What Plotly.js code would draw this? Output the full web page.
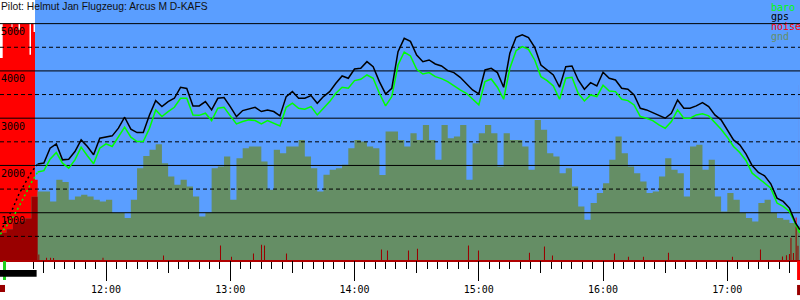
<!DOCTYPE html>
<html><head><meta charset="utf-8">
<script src="https://cdn.plot.ly/plotly-3.0.1.min.js"></script>
<style>html,body{margin:0;padding:0;background:#fff}#chart{width:800px;height:300px}</style>
</head><body><div id="chart"></div>
<script>
const DAY = '2020-06-01 ';
const xStart = '11:08:49', xEnd = '17:35:06';
const titleText = 'Pilot: Helmut Jan Flugzeug: Arcus M D-KAFS';

const times = ['11:09','11:12','11:15','11:18','11:21','11:24','11:27','11:30','11:33','11:36','11:39','11:42','11:45','11:48','11:51','11:54','11:57',
'12:00','12:03','12:06','12:09','12:12','12:15','12:18','12:21','12:24','12:27','12:30','12:33','12:36','12:39','12:42','12:45','12:48','12:51','12:54','12:57',
'13:00','13:03','13:06','13:09','13:12','13:15','13:18','13:21','13:24','13:27','13:30','13:33','13:36','13:39','13:42','13:45','13:48','13:51','13:54','13:57',
'14:00','14:03','14:06','14:09','14:12','14:15','14:18','14:21','14:24','14:27','14:30','14:33','14:36','14:39','14:42','14:45','14:48','14:51','14:54','14:57',
'15:00','15:03','15:06','15:09','15:12','15:15','15:18','15:21','15:24','15:27','15:30','15:33','15:36','15:39','15:42','15:45','15:48','15:51','15:54','15:57',
'16:00','16:03','16:06','16:09','16:12','16:15','16:18','16:21','16:24','16:27','16:30','16:33','16:36','16:39','16:42','16:45','16:48','16:51','16:54','16:57',
'17:00','17:03','17:06','17:09','17:12','17:15','17:18','17:21','17:24','17:27','17:30','17:33','17:35'];

const gps = [600,850,1090,1400,1640,1860,2030,2050,2365,2457,2119,2133,2295,2541,2401,2225,2577,
2598,2626,2788,3020,2767,2696,2696,3069,3372,3245,3351,3421,3654,3630,3260,3260,3351,3175,3421,3436,
3245,3034,3161,3189,3231,3140,3175,3140,3048,3457,3562,3421,3421,3478,3316,3457,3562,3738,3893,3844,
4041,4055,4196,4090,3773,3513,3633,4407,4689,4625,4337,4196,4231,4147,4104,4006,3964,3865,3724,3597,
3513,4020,4055,3964,3654,4372,4710,4766,4707,4498,4125,4020,3914,3654,4090,4104,3809,3612,3752,3682,
3971,3844,3809,3633,3612,3492,3210,3175,3119,3048,2999,3105,3386,3210,3210,3260,3330,3245,3069,2964,
2753,2541,2436,2246,1999,1852,1781,1612,1309,1239,1098,781,641];

const baro = [545,720,900,1130,1390,1640,1860,1890,2133,2274,2049,1943,2119,2387,2204,2035,2365,
2457,2401,2612,2809,2598,2506,2506,2788,3175,3034,3140,3231,3421,3420,3069,3060,3105,2950,3210,3231,
3048,2879,2929,2964,2950,2879,2950,2893,2837,3231,3316,3210,3189,3245,3069,3210,3351,3527,3654,3633,
3795,3823,3914,3844,3527,3260,3457,4125,4400,4316,4034,3935,3964,3879,3837,3773,3682,3597,3527,3400,
3281,3773,3830,3654,3400,4055,4428,4513,4456,4231,3879,3795,3682,3400,3844,3865,3527,3365,3492,3457,
3696,3576,3562,3400,3372,3281,3034,2999,2950,2858,2788,2929,3175,2999,2999,3069,3091,3048,2907,2767,
2598,2401,2274,2105,1837,1732,1640,1521,1204,1133,1028,746,570];

const gnd = [575,650,790,818,880,1340,1450,1450,1240,1700,1650,1274,1345,1380,1345,1274,1239,
1274,993,993,887,1274,1943,2200,2330,2450,2049,1767,1591,1697,1556,1345,922,1000,1943,1978,2190,
1274,2150,2365,2400,2400,2084,1485,2330,2260,2400,2400,2541,2190,1943,1450,1802,1908,1943,2013,2365,
2541,2506,2400,2365,1800,2717,2717,2541,2400,2682,2541,2858,2541,2119,2858,2577,2612,2858,1697,2471,
2682,2858,2682,1978,2682,2541,2541,2400,1908,2964,2753,2260,2190,1837,1943,1556,1133,852,1204,1415,
1626,2119,2612,2260,1978,1837,1661,1415,1450,1767,2154,1908,1837,1345,2400,2436,1908,2119,1345,1028,
1415,1274,993,887,817,1204,1274,993,887,852,781,711,641];

// engine climb samples (drawn dotted), index of first gliding sample
const climbEnd = 6;

// engine noise level (0..1000), held until the next sample
const noiseTimes  = ['11:08:00','11:10:07','11:14:22','11:14:51','11:17:45','11:18:28','11:23:03','11:23:47','11:25:00','11:25:43','11:27:01','17:34:21'];
const noiseValues = [855,1000,986,1000,973,1000,868,1000,965,340,0,741];
// short noise spikes
const spikeTimes  = ['11:27:19','11:31:02','11:32:58','11:34:25','11:58:18','12:27:31','12:55:02','13:00:21','13:10:58','13:14:50','13:16:17','13:26:54',
'14:12:46','14:15:40','14:25:48','14:30:09','14:54:46','14:59:36','15:24:13','15:31:28','15:35:20','16:05:16','16:12:01','16:19:16','16:31:20',
'17:02:14','17:15:46','17:26:23','17:28:19','17:29:46','17:30:29','17:31:41','17:32:59','17:33:52'];
const spikeValues = [23,10,10,8,10,19,61,14,27,65,61,27,44,40,40,48,61,40,31,57,19,27,14,14,31,14,44,15,20,25,94,30,180,60];
const noiseFullScale = 5000;   // noise 1000 drawn at 5000 m

const engineOn = ['11:00:00','11:25:43'];
const launchMark = '11:11:00';
const engineBar = ['11:08:49','11:26:30'];
const noiseMarks = [['11:08:49','11:11:14'],['17:33:41','17:35:06']];

const yTicks = [1000,2000,3000,4000,5000];
const yTickText = ['1000','2000','3000','4000','5000'];
const gridSolid = [1000,2000,3000,4000,5000];
const gridDashed = [500,1500,2500,3500,4500];

const legendItems = ['baro','gps','noise','gnd'];
const colors = {baro:'#00ff00', gps:'#000000', noise:'#ff0000', gnd:'#658e65', noiseDark:'#990000', sky:'rgb(90,158,255)'};

function toSec(t){const p=t.split(':').map(Number);return p[0]*3600+p[1]*60+(p[2]||0);}
function fromSec(s){const h=Math.floor(s/3600),m=Math.floor((s%3600)/60),ss=Math.round(s%60);
  return DAY+String(h).padStart(2,'0')+':'+String(m).padStart(2,'0')+':'+String(ss).padStart(2,'0');}

let ev = noiseTimes.map((t,i)=>({s:toSec(t), v:noiseValues[i]}));
spikeTimes.forEach((t,i)=>{ev.push({s:toSec(t),v:spikeValues[i]}); ev.push({s:toSec(t)+30,v:0});});
ev.sort((a,b)=>a.s-b.s);
ev.push({s:toSec(xEnd), v:ev[ev.length-1].v});
const gSec = times.map(toSec);
function stepAt(secs, vals, s, before){let v=before;for(let i=0;i<secs.length;i++){if(secs[i]<=s)v=vals[i];else break;}return v;}
const evS = ev.map(e=>e.s), evV = ev.map(e=>e.v);
const unionS = Array.from(new Set(evS.concat(gSec))).sort((a,b)=>a-b);
const darkY = unionS.map(s=>Math.min(stepAt(evS,evV,s,0)*noiseFullScale/1000, stepAt(gSec,gnd,s,gnd[0])));

const X = times.map(t=>DAY+t);
function gridTrace(vals, dash){const x=[],y=[];vals.forEach(v=>{x.push(DAY+xStart,DAY+xEnd,null);y.push(v,v,null);});
  return {x,y,type:'scatter',mode:'lines',line:{color:'#000',width:1,dash},hoverinfo:'skip'};}
function seriesTrace(vals, color, from, to, dash){
  return {x:X.slice(from,to), y:vals.slice(from,to), type:'scatter', mode:'lines', line:{color,width:1.5,dash}};}

const traces = [
  {x:ev.map(e=>fromSec(e.s)), y:ev.map(e=>e.v*noiseFullScale/1000), type:'scatter', mode:'lines', line:{shape:'hv',width:0,color:colors.noise}, fill:'tozeroy', fillcolor:colors.noise, hoverinfo:'skip'},
  {x:X, y:gnd, type:'scatter', mode:'lines', line:{shape:'hv',width:0,color:colors.gnd}, fill:'tozeroy', fillcolor:colors.gnd},
  {x:unionS.map(fromSec), y:darkY, type:'scatter', mode:'lines', line:{shape:'hv',width:0,color:colors.noiseDark}, fill:'tozeroy', fillcolor:colors.noiseDark, hoverinfo:'skip'},
  gridTrace(gridDashed,'4px,3px'),
  gridTrace(gridSolid,'solid'),
  seriesTrace(baro, colors.baro, 0, climbEnd+1, '2px,3px'),
  seriesTrace(gps, colors.gps, 0, climbEnd+1, '2px,3px'),
  seriesTrace(baro, colors.baro, climbEnd, baro.length, 'solid'),
  seriesTrace(gps, colors.gps, climbEnd, gps.length, 'solid'),
  {x:[], y:[], type:'scatter', xaxis:'x2'}
];

const mono = 'DejaVu Sans Mono';
const ann = [{xref:'paper',yref:'paper',x:0,y:1,xanchor:'left',yanchor:'top',showarrow:false,text:titleText,
  font:{family:'Liberation Sans, Arial',size:10.3,color:'#111'},borderpad:0}];
legendItems.forEach((n,i)=>ann.push({xref:'paper',yref:'paper',x:770/800,y:1-(7+10*i)/260,xanchor:'left',yanchor:'middle',
  showarrow:false,text:n,font:{family:mono,size:10,color:colors[n]},borderpad:0}));

const shapes = [
  {type:'rect',xref:'x',yref:'paper',x0:DAY+engineOn[0],x1:DAY+engineOn[1],y0:0,y1:1,fillcolor:'#fff',line:{width:0},layer:'below'},
  {type:'line',xref:'x',yref:'paper',x0:DAY+launchMark,x1:DAY+launchMark,y0:-0.004,y1:-0.077,line:{color:'#1fd11f',width:3}},
  {type:'rect',xref:'x',yref:'paper',x0:DAY+engineBar[0],x1:DAY+engineBar[1],y0:-0.0385,y1:-0.064,fillcolor:'#000',line:{width:0}},
  {type:'rect',xref:'x',yref:'paper',x0:DAY+noiseMarks[0][0],x1:DAY+noiseMarks[0][1],y0:-0.096,y1:-0.123,fillcolor:colors.noiseDark,line:{width:0}},
  {type:'rect',xref:'x',yref:'paper',x0:DAY+noiseMarks[1][0],x1:DAY+noiseMarks[1][1],y0:-0.004,y1:-0.077,fillcolor:colors.noise,line:{width:0}},
  {type:'rect',xref:'x',yref:'paper',x0:DAY+noiseMarks[1][0],x1:DAY+noiseMarks[1][1],y0:-0.096,y1:-0.135,fillcolor:colors.noiseDark,line:{width:0}}
];

const layout = {
  width:800,height:300,margin:{l:0,r:0,t:0,b:40,pad:0},
  paper_bgcolor:'#fff',plot_bgcolor:colors.sky,showlegend:false,
  xaxis:{type:'date',range:[DAY+xStart,DAY+xEnd],showgrid:false,zeroline:false,showline:true,linecolor:'#b00000',linewidth:2,
    ticks:'outside',ticklen:19,tickwidth:1,tickcolor:'#000',dtick:3600000,tick0:DAY+'00:00',tickformat:'%H:%M',
    tickfont:{family:mono,size:10,color:'#000'},
    minor:{dtick:300000,tick0:DAY+'00:00',ticks:'outside',ticklen:7,tickcolor:'#000',tickwidth:1,showgrid:false}},
  xaxis2:{type:'date',overlaying:'x',anchor:'y',side:'bottom',range:[DAY+xStart,DAY+xEnd],ticks:'outside',ticklen:12,
    tickwidth:1,tickcolor:'#000',dtick:1800000,tick0:DAY+'00:00',showticklabels:false,showgrid:false,zeroline:false,showline:false},
  yaxis:{range:[0,5500],showgrid:false,zeroline:false,showline:false,ticks:'',tickvals:yTicks,ticktext:yTickText,
    ticklabelposition:'inside',ticklabelshift:8,ticklabelstandoff:-2,tickfont:{family:mono,size:10,color:'#000'}},
  annotations:ann,shapes:shapes
};
Plotly.newPlot('chart',traces,layout,{staticPlot:true,displayModeBar:false});
</script></body></html>
